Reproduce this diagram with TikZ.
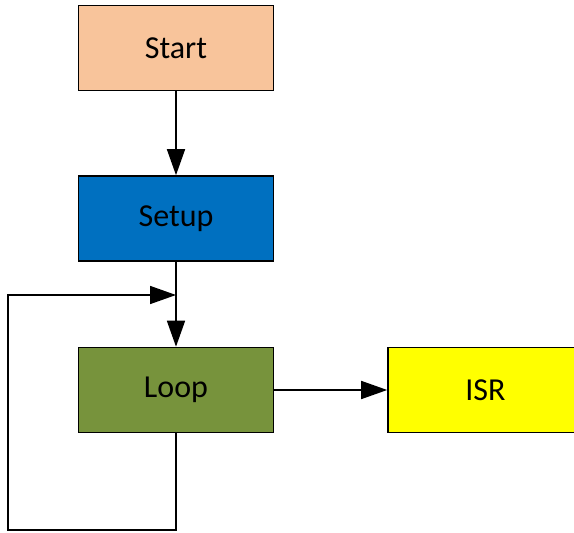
\documentclass[tikz,border=0pt]{standalone}
\usepackage{fontspec}
\setmainfont{Carlito}
\usetikzlibrary{arrows.meta}
\definecolor{peach}{HTML}{F8C49B}
\definecolor{setupblue}{HTML}{0070C0}
\definecolor{loopgreen}{HTML}{77933C}
\definecolor{isryellow}{HTML}{FFFF00}

\begin{document}
\begin{tikzpicture}[x=1pt,y=-1pt,
    box/.style={draw,line width=1.6pt,minimum width=195pt,minimum height=85pt,
      inner sep=0pt,font=\fontsize{32}{38}\selectfont},
    flow/.style={line width=1.6pt,-{Triangle[length=26pt,width=18pt]}}]
  \useasboundingbox (0,0) rectangle (574,533);
  \clip (0,0) rectangle (574,533);
  % the four blocks
  \node[box,fill=peach] (start) at (176,48) {Start};
  \node[box,fill=setupblue] (setup) at (176,218.5) {Setup};
  \node[box,fill=loopgreen] (loop) at (176,390) {Loop};
  \node[box,fill=isryellow] (isr) at (485.5,390) {ISR};
  % straight connectors
  \draw[flow] (start.south) -- (setup.north);
  \draw[flow] (setup.south) -- (loop.north);
  \draw[flow] (loop.east) -- (isr.west);
  % loop back into the main line
  \coordinate (back) at (176,295);
  \draw[flow] (loop.south) -- (176,530) -- (8,530) -- (8,295) -- (back);
\end{tikzpicture}
\end{document}
